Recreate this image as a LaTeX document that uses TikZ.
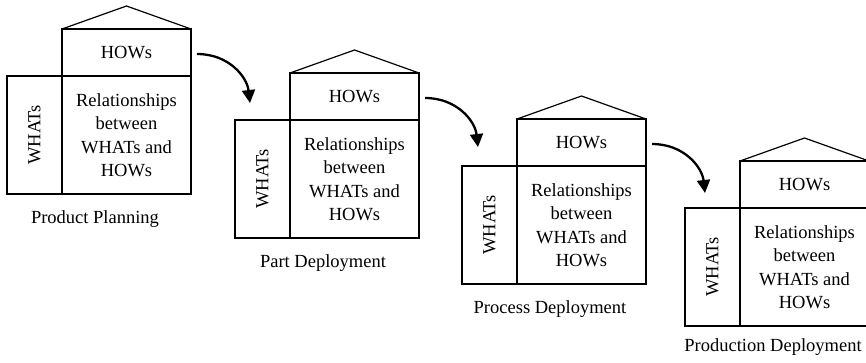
\documentclass[tikz,border=0pt]{standalone}
\usepackage{fontspec}
\setmainfont{Liberation Serif}
\usepackage{graphicx}
\usetikzlibrary{arrows.meta,calc}

\newcommand\qfdfont{\fontsize{18.5}{23.5}\selectfont}

\tikzset{
  cell/.style={draw, line width=2.7pt, inner sep=0pt, outer sep=0pt,
               align=center, font=\qfdfont},
  roofline/.style={line width=1.2pt, line join=miter},
  flow/.style={line width=2.3pt, -{Triangle[length=13pt,width=13pt]}},
  caption/.style={font=\qfdfont, inner sep=0pt},
}

\begin{document}
\begin{tikzpicture}[x=1pt,y=-1pt]
\useasboundingbox (0,0) rectangle (866,363);

% one house of quality per phase: divider x, roof base y, caption offset, caption
\foreach \i/\D/\B/\c/\name in {1/62/29/190/Product Planning,
                               2/290/73/190/Part Deployment,
                               3/517/119/190/Process Deployment,
                               4/740/161/186/Production Deployment}{
  \node[cell, minimum width=129pt, minimum height=47pt, anchor=north west]
       (how\i) at (\D,\B) {HOWs};
  \node[cell, minimum width=129pt, minimum height=118pt, anchor=north west]
       (rel\i) at (how\i.south west) {Relationships\\between\\WHATs and\\HOWs};
  \node[cell, minimum width=55pt, minimum height=118pt, anchor=north east]
       (what\i) at (how\i.south west) {\rotatebox{90}{WHATs}};
  \coordinate (apex\i) at ($(how\i.north)+(0,-23)$);
  \draw[roofline] (how\i.north west) -- (apex\i) -- (how\i.north east);
  \node[caption] (cap\i) at (\D+33,\B+\c) {\name};
}

% flow from each phase's HOWs to the next phase's WHATs
\foreach \i in {1,2,3}{
  \coordinate (s\i) at ($(how\i.east)+(6,1.5)$);
  \coordinate (t\i) at ($(s\i)+(53,49)$);
  \draw[flow] (s\i) .. controls +(32,0) and +(-3,-26) .. (t\i);
}
\end{tikzpicture}
\end{document}
